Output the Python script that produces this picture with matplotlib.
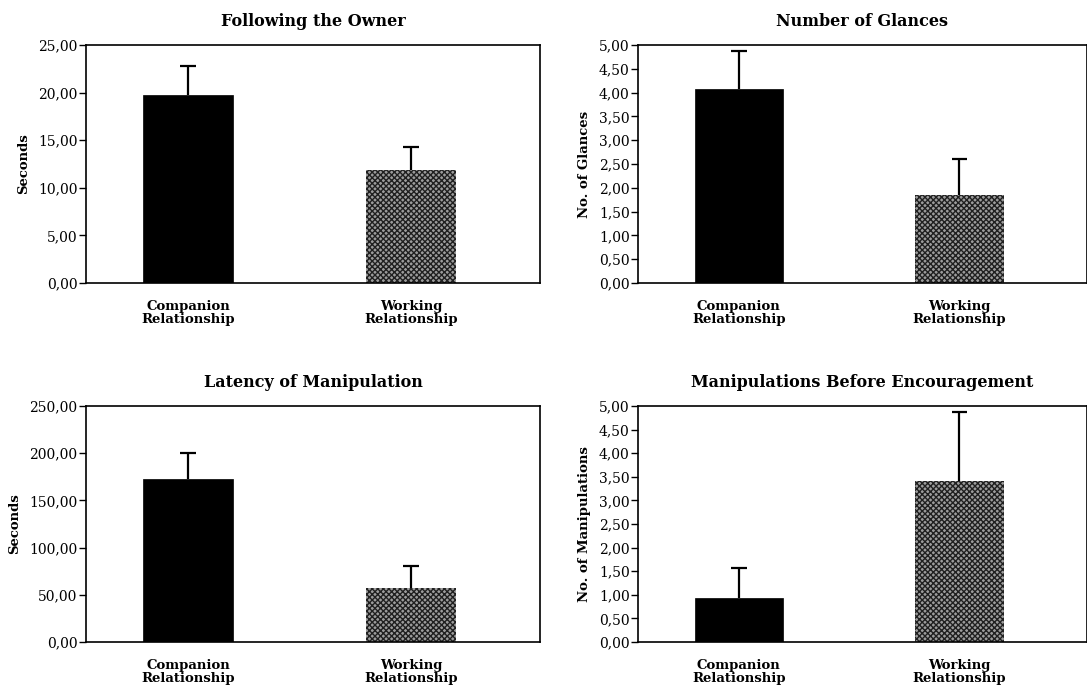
import matplotlib
matplotlib.use("Agg")
import matplotlib.pyplot as plt
import numpy as np
from matplotlib.ticker import FuncFormatter

categories = ["Companion\nRelationship", "Working\nRelationship"]

titles = ["Following the Owner", "Number of Glances",
          "Latency of Manipulation", "Manipulations Before Encouragement"]
ylabels = ["Seconds", "No. of Glances", "Seconds", "No. of Manipulations"]

following_means = [19.8, 11.9]
following_upper = [22.8, 14.3]
glances_means = [4.07, 1.85]
glances_upper = [4.88, 2.60]
latency_means = [173.0, 57.0]
latency_upper = [200.0, 80.0]
manip_means = [0.93, 3.42]
manip_upper = [1.57, 4.87]

yticks_list = [
    [0, 5, 10, 15, 20, 25],
    [0, 0.5, 1, 1.5, 2, 2.5, 3, 3.5, 4, 4.5, 5],
    [0, 50, 100, 150, 200, 250],
    [0, 0.5, 1, 1.5, 2, 2.5, 3, 3.5, 4, 4.5, 5],
]
means_list = [following_means, glances_means, latency_means, manip_means]
upper_list = [following_upper, glances_upper, latency_upper, manip_upper]

plt.rcParams['hatch.linewidth'] = 1.0
serif = ['DejaVu Serif']

fig = plt.figure(figsize=(10.87, 6.90), dpi=100)
W, H = 1087, 690
# axes boxes in pixels: left, top, right, bottom
boxes = [(86, 45, 540, 283), (638, 45, 1087, 283),
         (86, 406, 540, 642), (638, 406, 1087, 642)]

fmt = FuncFormatter(lambda v, p: f"{v:.2f}".replace('.', ','))

for i, (l, t, r, b) in enumerate(boxes):
    ax = fig.add_axes([l / W, 1 - b / H, (r - l) / W, (b - t) / H])
    means = means_list[i]
    upper = upper_list[i]
    x = np.array([0, 1])
    ax.vlines(x, means, upper, colors='black', linewidth=1.6, zorder=1)
    ax.hlines(upper, x - 0.036, x + 0.036, colors='black', linewidth=1.6, zorder=1)
    ax.bar(x[0], means[0], width=0.40, color='black', edgecolor='black', linewidth=0.5, zorder=2)
    ax.bar(x[1], means[1], width=0.40, color='#9c9c9c', edgecolor='#202020',
           hatch='xxxxxx', linewidth=0, zorder=2)
    ax.set_xlim(-0.457, 1.578)
    yt = yticks_list[i]
    ax.set_ylim(0, yt[-1])
    ax.set_yticks(yt)
    ax.yaxis.set_major_formatter(fmt)
    ax.set_xticks(x)
    ax.set_xticklabels(categories, fontweight='bold', family=serif, fontsize=9.5,
                       linespacing=1.0)
    ax.tick_params(axis='x', length=0, pad=12)
    ax.tick_params(axis='y', length=5, width=1, direction='out', labelsize=10, pad=1)
    for lab in ax.get_yticklabels():
        lab.set_family(serif)
    for s in ax.spines.values():
        s.set_linewidth(1.2)
    ax.set_title(titles[i], fontweight='bold', family=serif, fontsize=11.5, pad=14)
    ax.set_ylabel(ylabels[i], fontweight='bold', family=serif, fontsize=9.5, labelpad=6)

fig.savefig("out.png", dpi=100)
